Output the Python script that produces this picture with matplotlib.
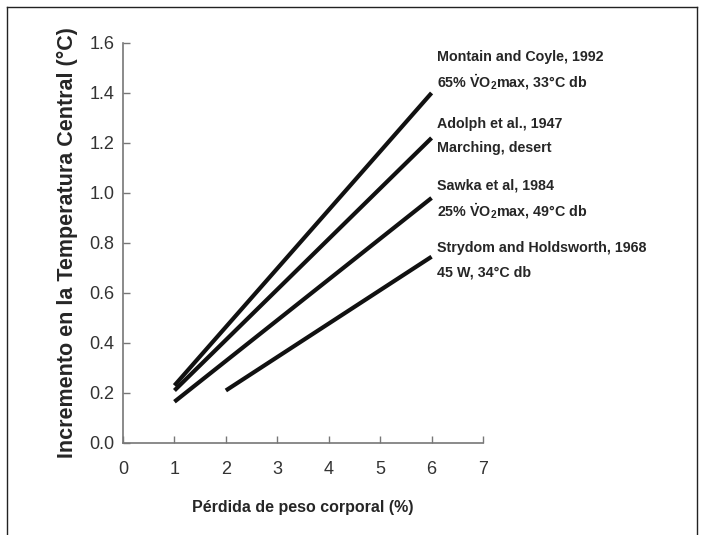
#!/usr/bin/env python3
"""Core temperature rise vs body weight loss."""

import matplotlib

matplotlib.use("Agg")
import matplotlib.pyplot as plt
from matplotlib.lines import Line2D

# studies: start/end points
studies = [
    "Montain and Coyle, 1992",
    "Adolph et al., 1947",
    "Sawka et al, 1984",
    "Strydom and Holdsworth, 1968",
]
conditions = [
    r"65% $\dot{V}$O$_2$max, 33°C db",
    "Marching, desert",
    r"25% $\dot{V}$O$_2$max, 49°C db",
    "45 W, 34°C db",
]
x_start = [1.0, 1.0, 1.0, 2.0]
y_start = [0.23, 0.21, 0.165, 0.21]
x_end = [6.0, 6.0, 6.0, 6.0]
y_end = [1.40, 1.22, 0.98, 0.745]
# label rows (study line, condition line)
label_top = [1.544, 1.276, 1.028, 0.780]
label_bottom = [1.444, 1.18, 0.928, 0.68]

x_ticks = [0, 1, 2, 3, 4, 5, 6, 7]
y_ticks = [0.0, 0.2, 0.4, 0.6, 0.8, 1.0, 1.2, 1.4, 1.6]

FONT = ["Liberation Sans", "DejaVu Sans"]
plt.rcParams["font.family"] = FONT
plt.rcParams["mathtext.fontset"] = "custom"
plt.rcParams["mathtext.rm"] = "Liberation Sans:bold"
plt.rcParams["mathtext.it"] = "Liberation Sans:bold"
plt.rcParams["mathtext.bf"] = "Liberation Sans:bold"

fig = plt.figure(figsize=(7.01, 5.35), dpi=100)
ax = fig.add_axes([0.1755, 0.172, 0.5135, 0.7477])

for i in range(len(studies)):
    ax.plot(
        [x_start[i], x_end[i]],
        [y_start[i], y_end[i]],
        color="#111111",
        linewidth=3.0,
        solid_capstyle="butt",
    )
    ax.text(6.11, label_top[i], studies[i], fontsize=10.3, fontweight="bold",
            color="#262626", va="center", ha="left", clip_on=False)
    ax.text(6.11, label_bottom[i], conditions[i], fontsize=10.3, fontweight="bold",
            color="#262626", va="center", ha="left", clip_on=False)

ax.set_xlim(0, 7)
ax.set_ylim(0, 1.6)
ax.set_xticks(x_ticks)
ax.set_yticks(y_ticks)
ax.set_yticklabels([f"{v:.1f}" for v in y_ticks])
ax.spines["top"].set_visible(False)
ax.spines["right"].set_visible(False)
for s in ("left", "bottom"):
    ax.spines[s].set_color("#777777")
    ax.spines[s].set_linewidth(1.2)
ax.tick_params(direction="in", length=5, color="#777777", width=1,
               labelsize=13, labelcolor="#333333")
ax.tick_params(axis="x", pad=13)
ax.tick_params(axis="y", pad=6)

ax.set_xlabel("Pérdida de peso corporal (%)", fontsize=11.5,
              fontweight="bold", color="#262626", labelpad=16)
ax.set_ylabel("Incremento en la Temperatura Central (°C)",
              fontsize=15.5, fontweight="bold", color="#262626", labelpad=8)

# frame lines around the picture
fig.add_artist(Line2D([0.01, 0.995], [0.987, 0.987], transform=fig.transFigure,
                      color="#222222", linewidth=1))
fig.add_artist(Line2D([0.01, 0.01], [0.0, 0.987], transform=fig.transFigure,
                      color="#222222", linewidth=1))
fig.add_artist(Line2D([0.995, 0.995], [0.0, 0.987], transform=fig.transFigure,
                      color="#222222", linewidth=1))

fig.savefig("out.png", dpi=100)
